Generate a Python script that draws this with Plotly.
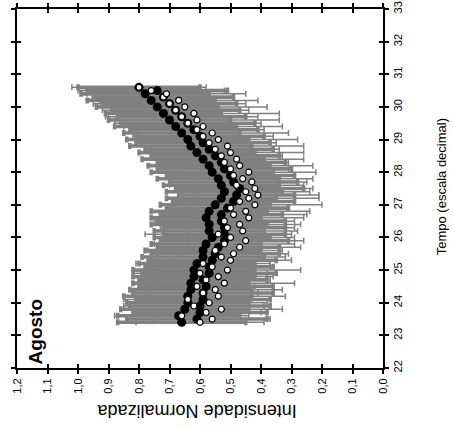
import plotly.graph_objects as go

# Time (decimal hours)
tempo = [23.4, 23.5, 23.6, 23.7, 23.8, 23.9, 24.0, 24.1, 24.2, 24.3,
         24.4, 24.5, 24.6, 24.7, 24.8, 24.9, 25.0, 25.1, 25.2, 25.3,
         25.4, 25.5, 25.6, 25.7, 25.8, 25.9, 26.0, 26.1, 26.2, 26.3,
         26.4, 26.5, 26.6, 26.7, 26.8, 26.9, 27.0, 27.1, 27.2, 27.3,
         27.4, 27.5, 27.6, 27.7, 27.8, 27.9, 28.0, 28.1, 28.2, 28.3,
         28.4, 28.5, 28.6, 28.7, 28.8, 28.9, 29.0, 29.1, 29.2, 29.3,
         29.4, 29.5, 29.6, 29.7, 29.8, 29.9, 30.0, 30.1, 30.2, 30.3,
         30.4, 30.5, 30.6]

# Normalised intensity, black series
int_preto = [0.66, 0.61, 0.67, 0.60, 0.65, 0.60, 0.64, 0.59, 0.64, 0.59,
             0.63, 0.58, 0.63, 0.59, 0.62, 0.57, 0.62, 0.57, 0.61, 0.56,
             0.59, 0.55, 0.59, 0.54, 0.58, 0.52, 0.56, 0.52, 0.57, 0.52,
             0.57, 0.53, 0.58, 0.53, 0.57, 0.51, 0.55, 0.49, 0.53, 0.48,
             0.52, 0.47, 0.53, 0.49, 0.54, 0.50, 0.56, 0.52, 0.57, 0.53,
             0.59, 0.55, 0.61, 0.57, 0.63, 0.59, 0.64, 0.60, 0.66, 0.62,
             0.68, 0.64, 0.70, 0.66, 0.72, 0.68, 0.74, 0.70, 0.76, 0.72,
             0.78, 0.74, 0.80]
erro_preto = [0.21, 0.23, 0.20, 0.22, 0.21, 0.23, 0.20, 0.22, 0.21, 0.23,
              0.20, 0.22, 0.19, 0.21, 0.20, 0.22, 0.20, 0.21, 0.19, 0.21,
              0.20, 0.21, 0.19, 0.20, 0.18, 0.21, 0.19, 0.20, 0.18, 0.20,
              0.19, 0.21, 0.18, 0.20, 0.19, 0.20, 0.18, 0.20, 0.18, 0.19,
              0.19, 0.21, 0.19, 0.21, 0.20, 0.21, 0.20, 0.22, 0.20, 0.21,
              0.20, 0.21, 0.19, 0.21, 0.20, 0.22, 0.20, 0.21, 0.19, 0.21,
              0.20, 0.22, 0.20, 0.21, 0.19, 0.21, 0.20, 0.22, 0.21, 0.23,
              0.21, 0.23, 0.20]

# Normalised intensity, white series
int_branco = [0.60, 0.56, 0.66, 0.58, 0.53, 0.62, 0.57, 0.64, 0.54, 0.59,
              0.55, 0.61, 0.52, 0.58, 0.54, 0.60, 0.51, 0.56, 0.59, 0.50,
              0.53, 0.49, 0.55, 0.47, 0.52, 0.45, 0.50, 0.54, 0.46, 0.51,
              0.47, 0.52, 0.44, 0.49, 0.45, 0.50, 0.42, 0.47, 0.44, 0.41,
              0.45, 0.42, 0.48, 0.43, 0.46, 0.49, 0.44, 0.50, 0.47, 0.52,
              0.48, 0.53, 0.50, 0.55, 0.51, 0.57, 0.54, 0.59, 0.56, 0.61,
              0.59, 0.64, 0.61, 0.66, 0.62, 0.68, 0.65, 0.70, 0.67, 0.72,
              0.71, 0.76, 0.80]
erro_branco = [0.21, 0.19, 0.22, 0.18, 0.20, 0.23, 0.19, 0.21, 0.22, 0.18,
               0.22, 0.19, 0.23, 0.21, 0.18, 0.22, 0.24, 0.19, 0.22, 0.20,
               0.21, 0.18, 0.22, 0.20, 0.23, 0.19, 0.21, 0.24, 0.18, 0.22,
               0.20, 0.23, 0.18, 0.24, 0.21, 0.19, 0.22, 0.18, 0.23, 0.20,
               0.21, 0.19, 0.22, 0.18, 0.23, 0.20, 0.22, 0.19, 0.24, 0.21,
               0.22, 0.20, 0.24, 0.21, 0.25, 0.22, 0.26, 0.23, 0.25, 0.22,
               0.26, 0.24, 0.27, 0.25, 0.28, 0.24, 0.27, 0.25, 0.26, 0.23,
               0.26, 0.24, 0.22]

int_ticks = [1.2, 1.1, 1.0, 0.9, 0.8, 0.7, 0.6, 0.5, 0.4, 0.3, 0.2, 0.1, 0.0]
int_ticklabels = ["1,2", "1,1", "1,0", "0,9", "0,8", "0,7", "0,6", "0,5",
                  "0,4", "0,3", "0,2", "0,1", "0,0"]
tempo_ticks = [22, 23, 24, 25, 26, 27, 28, 29, 30, 31, 32, 33]

GRAY = "#808080"
FONT = "Liberation Sans, Arial, sans-serif"

fig = go.Figure()

# error bars only (drawn first, underneath all markers)
fig.add_trace(go.Scatter(
    x=int_branco, y=tempo, mode="markers",
    marker=dict(color="rgba(0,0,0,0)", size=1),
    error_x=dict(type="data", array=erro_branco, color=GRAY, thickness=1.5, width=3),
    hoverinfo="skip", showlegend=False))
fig.add_trace(go.Scatter(
    x=int_preto, y=tempo, mode="markers",
    marker=dict(color="rgba(0,0,0,0)", size=1),
    error_x=dict(type="data", array=erro_preto, color=GRAY, thickness=3.6, width=3),
    hoverinfo="skip", showlegend=False))
# black markers
fig.add_trace(go.Scatter(
    x=int_preto, y=tempo, mode="markers",
    marker=dict(color="black", size=9, symbol="circle"),
    showlegend=False))
# white markers
fig.add_trace(go.Scatter(
    x=int_branco, y=tempo, mode="markers",
    marker=dict(color="white", size=6, symbol="circle",
                line=dict(color="black", width=1.2)),
    showlegend=False))
# invisible trace for overlay axes (inner tick halves)
fig.add_trace(go.Scatter(
    x=int_preto, y=tempo, xaxis="x2", yaxis="y2", mode="markers",
    marker=dict(color="rgba(0,0,0,0)", size=1),
    hoverinfo="skip", showlegend=False))

common = dict(ticklen=4, tickwidth=1.5, tickcolor="black", showgrid=False,
              zeroline=False, automargin=False)

fig.update_layout(
    width=454, height=428,
    margin=dict(l=17, r=71, t=9, b=60),
    paper_bgcolor="white", plot_bgcolor="white",
    font=dict(family=FONT, color="black", size=11),
    xaxis=dict(range=[1.2, 0.0], tickvals=int_ticks, ticktext=int_ticklabels,
               tickangle=-90, ticks="outside", showline=True, linecolor="black",
               linewidth=2, mirror="ticks", tickfont=dict(size=11), **common),
    yaxis=dict(range=[22, 33], tickvals=tempo_ticks, side="right",
               tickangle=-90, ticks="outside", showline=True, linecolor="black",
               linewidth=2, mirror="ticks", tickfont=dict(size=11), **common),
    xaxis2=dict(range=[1.2, 0.0], tickvals=int_ticks, overlaying="x",
                anchor="y2", ticks="inside", showticklabels=False,
                showline=False, mirror="ticks", **common),
    yaxis2=dict(range=[22, 33], tickvals=tempo_ticks, overlaying="y",
                anchor="x2", side="right", ticks="inside", showticklabels=False,
                showline=False, mirror="ticks", **common),
    annotations=[
        dict(text="Intensidade Normalizada", xref="paper", yref="paper",
             x=0.49, y=-0.12, textangle=180, showarrow=False,
             xanchor="center", yanchor="middle", font=dict(size=18)),
        dict(text="Tempo (escala decimal)", xref="paper", yref="paper",
             x=1.16, y=0.505, textangle=-90, showarrow=False,
             xanchor="center", yanchor="middle", font=dict(size=13)),
        dict(text="<b>Agosto</b>", xref="paper", yref="paper",
             x=0.05, y=0.10, textangle=-90, showarrow=False,
             xanchor="center", yanchor="middle", font=dict(size=19)),
    ],
)

fig.write_html("out.html",
               config={"displayModeBar": False},
               post_script="document.body.style.margin='0';document.body.style.padding='0';")
